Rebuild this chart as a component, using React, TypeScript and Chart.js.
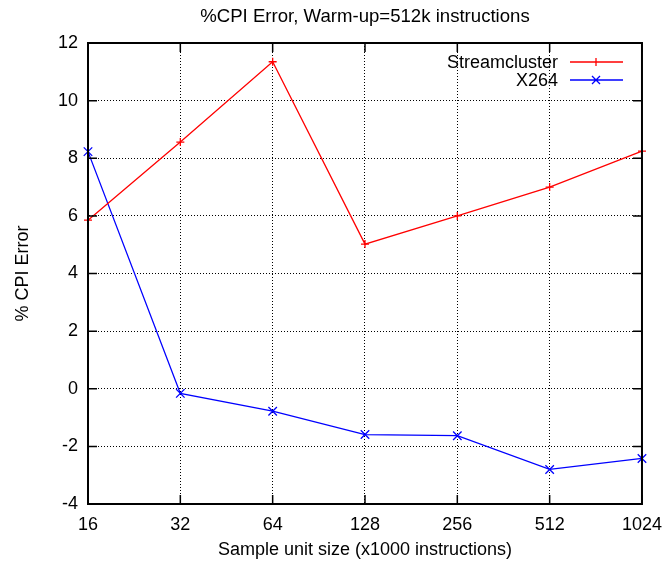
import React, { useEffect, useRef } from "react";
import { Chart, registerables } from "chart.js";

Chart.register(...registerables);

const categories = ["16", "32", "64", "128", "256", "512", "1024"];
const streamcluster = [5.85, 8.56, 11.35, 5.02, 6.0, 7.0, 8.25];
const x264 = [8.23, -0.16, -0.78, -1.59, -1.63, -2.8, -2.42];
const seriesNames = ["Streamcluster", "X264"];
const seriesColors = ["#ff0000", "#0000ff"];
const yTicks = [-4, -2, 0, 2, 4, 6, 8, 10, 12];
const chartTitle = "%CPI Error, Warm-up=512k instructions";

const FONT = "'Liberation Sans', Arial, Helvetica, sans-serif";

const framePlugin = {
  id: "gnuplotFrame",
  afterDatasetsDraw(chart: any) {
    const { ctx, chartArea } = chart;
    const { left, right, top, bottom } = chartArea;
    const xs = chart.scales.x;
    const ys = chart.scales.y;
    ctx.save();
    ctx.strokeStyle = "#000";
    ctx.lineWidth = 1.5;
    const tl = 9;
    ctx.beginPath();
    categories.forEach((_, i) => {
      const x = xs.getPixelForValue(i);
      ctx.moveTo(x, bottom);
      ctx.lineTo(x, bottom - tl);
      ctx.moveTo(x, top);
      ctx.lineTo(x, top + tl);
    });
    yTicks.forEach((v) => {
      const y = ys.getPixelForValue(v);
      ctx.moveTo(left, y);
      ctx.lineTo(left + tl, y);
      ctx.moveTo(right, y);
      ctx.lineTo(right - tl, y);
    });
    ctx.stroke();
    ctx.lineWidth = 2;
    ctx.strokeRect(left, top, right - left, bottom - top);
    ctx.restore();
  },
  afterDraw(chart: any) {
    const { ctx, chartArea } = chart;
    ctx.save();
    ctx.fillStyle = "#000";
    ctx.font = `18.6px ${FONT}`;
    ctx.textAlign = "center";
    ctx.textBaseline = "middle";
    ctx.fillText(chartTitle, (chartArea.left + chartArea.right) / 2, 17);
    ctx.font = `18px ${FONT}`;
    ctx.textAlign = "right";
    const rows = [62, 80];
    seriesNames.forEach((name, i) => {
      const y = rows[i];
      ctx.fillStyle = "#000";
      ctx.fillText(name, 558, y + 1);
      ctx.strokeStyle = seriesColors[i];
      ctx.lineWidth = 1.3;
      ctx.beginPath();
      ctx.moveTo(570, y);
      ctx.lineTo(623, y);
      const cx = 596;
      if (i === 0) {
        ctx.moveTo(cx - 4, y);
        ctx.lineTo(cx + 4, y);
        ctx.moveTo(cx, y - 4);
        ctx.lineTo(cx, y + 4);
      } else {
        ctx.moveTo(cx - 4, y - 4);
        ctx.lineTo(cx + 4, y + 4);
        ctx.moveTo(cx - 4, y + 4);
        ctx.lineTo(cx + 4, y - 4);
      }
      ctx.stroke();
    });
    ctx.restore();
  },
};

export default function App() {
  const ref = useRef<HTMLCanvasElement | null>(null);
  useEffect(() => {
    document.body.style.margin = "0";
    const canvas = ref.current;
    if (!canvas) return;
    const gridCfg = {
      drawTicks: false,
      color: "#000",
      lineWidth: 1,
      borderDash: [1, 2],
    };
    const borderCfg = { display: true, color: "rgba(0,0,0,0)", width: 1, dash: [1, 2], dashOffset: 0 };
    const chart = new Chart(canvas, {
      type: "line",
      data: {
        labels: categories,
        datasets: [
          {
            label: seriesNames[0],
            data: streamcluster,
            borderColor: seriesColors[0],
            backgroundColor: seriesColors[0],
            borderWidth: 1.3,
            pointStyle: "cross",
            pointRadius: 4,
            pointBorderWidth: 1.3,
            tension: 0,
            fill: false,
            clip: false,
          },
          {
            label: seriesNames[1],
            data: x264,
            borderColor: seriesColors[1],
            backgroundColor: seriesColors[1],
            borderWidth: 1.3,
            pointStyle: "crossRot",
            pointRadius: 6,
            pointBorderWidth: 1.3,
            tension: 0,
            fill: false,
            clip: false,
          },
        ],
      },
      options: {
        animation: false,
        responsive: false,
        maintainAspectRatio: false,
        layout: { padding: { top: 43, right: 26, left: 0, bottom: 0 } },
        plugins: {
          legend: { display: false },
          tooltip: { enabled: false },
          title: { display: false },
        },
        scales: {
          x: {
            type: "category",
            offset: false,
            afterFit: (s: any) => {
              s.height = 63;
            },
            grid: { ...gridCfg, offset: false },
            border: borderCfg,
            ticks: {
              color: "#000",
              font: { family: FONT, size: 18 },
              padding: 10,
              maxRotation: 0,
              autoSkip: false,
            },
            title: {
              display: true,
              text: "Sample unit size (x1000 instructions)",
              color: "#000",
              font: { family: FONT, size: 18 },
              padding: { top: 0, bottom: 6 },
            },
          },
          y: {
            min: -4,
            max: 12,
            afterFit: (s: any) => {
              s.width = 88;
            },
            afterBuildTicks: (s: any) => {
              s.ticks = yTicks.map((v) => ({ value: v }));
            },
            grid: gridCfg,
            border: borderCfg,
            ticks: {
              color: "#000",
              font: { family: FONT, size: 18 },
              padding: 10,
            },
            title: {
              display: true,
              text: "% CPI Error",
              color: "#000",
              font: { family: FONT, size: 18 },
              padding: { top: 12, bottom: 0 },
            },
          },
        },
      },
      plugins: [framePlugin],
    });
    return () => chart.destroy();
  }, []);
  return (
    <div style={{ width: 672, height: 567 }}>
      <canvas ref={ref} width={672} height={567} style={{ display: "block", width: 672, height: 567 }} />
    </div>
  );
}
